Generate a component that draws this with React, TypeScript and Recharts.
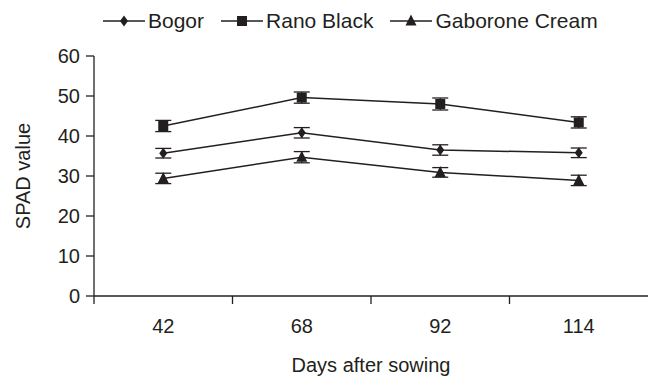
import { LineChart, Line, XAxis, YAxis, ErrorBar } from 'recharts';

const days = ['42', '68', '92', '114'];
const bogor = [35.7, 40.8, 36.5, 35.8];
const bogorErr = [1.2, 1.3, 1.3, 1.2];
const ranoBlack = [42.5, 49.6, 48.0, 43.4];
const ranoBlackErr = [1.4, 1.4, 1.5, 1.4];
const gaborone = [29.4, 34.7, 30.9, 28.9];
const gaboroneErr = [1.3, 1.4, 1.2, 1.3];
const yTicks = [0, 10, 20, 30, 40, 50, 60];

const data = days.map((d, i) => ({
  day: d,
  bogor: bogor[i],
  bogorErr: bogorErr[i],
  rano: ranoBlack[i],
  ranoErr: ranoBlackErr[i],
  gab: gaborone[i],
  gabErr: gaboroneErr[i],
}));

const INK = '#231f20';
const FONT = 'Liberation Sans, Arial, sans-serif';
const BAND = 554 / 4;

const Diamond = ({ cx, cy }: any) => (
  <path d={`M${cx},${cy - 5.5} L${cx + 4},${cy} L${cx},${cy + 5.5} L${cx - 4},${cy} Z`} fill={INK} />
);
const Square = ({ cx, cy }: any) => (
  <rect x={cx - 5} y={cy - 5} width={10} height={10} fill={INK} />
);
const Triangle = ({ cx, cy }: any) => (
  <path d={`M${cx},${cy - 6.5} L${cx + 5.5},${cy + 4.5} L${cx - 5.5},${cy + 4.5} Z`} fill={INK} />
);

const series = [
  { key: 'bogor', name: 'Bogor', Icon: Diamond },
  { key: 'rano', name: 'Rano Black', Icon: Square },
  { key: 'gab', name: 'Gaborone Cream', Icon: Triangle },
];

const LegendBox = () => (
  <div
    style={{
      position: 'absolute', left: 103, top: 9,
      display: 'flex', gap: 17,
      fontFamily: FONT, fontSize: 21, color: INK, whiteSpace: 'nowrap',
    }}
  >
    {series.map((s) => (
      <div key={s.key} style={{ display: 'flex', alignItems: 'center' }}>
        <svg width={42} height={14} style={{ marginRight: 3 }}>
          <line x1={0} y1={7} x2={42} y2={7} stroke={INK} strokeWidth={1.5} />
          <s.Icon cx={21} cy={7} />
        </svg>
        <span>{s.name}</span>
      </div>
    ))}
  </div>
);

const XTick = ({ x, y, payload }: any) => (
  <g>
    <line x1={x - BAND / 2} y1={y} x2={x - BAND / 2} y2={y + 8} stroke={INK} strokeWidth={1.3} />
    <text x={x} y={y + 37} textAnchor="middle" fontSize={20} fontFamily={FONT} fill={INK}>
      {payload.value}
    </text>
  </g>
);

export default function App() {
  return (
    <div style={{ position: 'absolute', left: 0, top: 0, width: 648, height: 377, background: '#fff' }}>
      <LineChart width={648} height={377} data={data} margin={{ top: 56, right: 0, left: 34, bottom: 1 }}>
        <XAxis
          dataKey="day"
          tickLine={false}
          tickSize={0}
          tickMargin={0}
          axisLine={{ stroke: INK, strokeWidth: 1.3 }}
          tick={<XTick />}
          height={80}
          interval={0}
          padding={{ left: BAND / 2, right: BAND / 2 }}
          label={{ value: 'Days after sowing', position: 'insideBottom', offset: 4, fontSize: 20, fontFamily: FONT, fill: INK }}
        />
        <YAxis
          domain={[0, 60]}
          ticks={yTicks}
          width={60}
          tickSize={8}
          tickMargin={6}
          tickLine={{ stroke: INK, strokeWidth: 1.3 }}
          axisLine={{ stroke: INK, strokeWidth: 1.3 }}
          tick={{ fontSize: 20, fontFamily: FONT, fill: INK }}
          label={{ value: 'SPAD value', angle: -90, position: 'insideLeft', offset: -11, style: { textAnchor: 'middle' }, fontSize: 20, fontFamily: FONT, fill: INK }}
        />
        {series.map((s) => (
          <Line
            key={s.key}
            dataKey={s.key}
            name={s.name}
            stroke={INK}
            strokeWidth={1.5}
            dot={<s.Icon />}
            activeDot={false}
            isAnimationActive={false}
          >
            <ErrorBar dataKey={`${s.key}Err`} width={8} stroke={INK} strokeWidth={1.3} direction="y" />
          </Line>
        ))}
      </LineChart>
      <LegendBox />
    </div>
  );
}
